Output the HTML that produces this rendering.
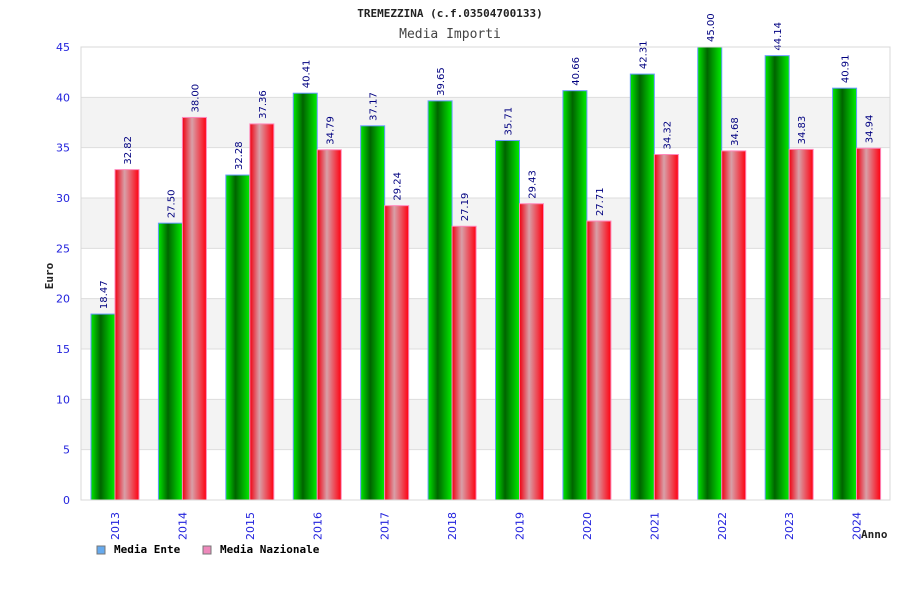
<!DOCTYPE html>
<html><head><meta charset="utf-8"><style>
body{margin:0;background:#fff;}
.mono{font-family:"DejaVu Sans Mono","Liberation Mono",monospace;}
.sans{font-family:"DejaVu Sans","Liberation Sans",sans-serif;}
</style></head><body>
<svg id="chart" width="900" height="600" xmlns="http://www.w3.org/2000/svg">
<defs>
<linearGradient id="gG" x1="0" x2="1" y1="0" y2="0">
<stop offset="0" stop-color="#00e800"/><stop offset="0.4" stop-color="#006400"/><stop offset="1" stop-color="#00ee00"/></linearGradient>
<linearGradient id="gR" x1="0" x2="1" y1="0" y2="0">
<stop offset="0" stop-color="#f00010"/><stop offset="0.4" stop-color="#d8a0a8"/><stop offset="1" stop-color="#ff0010"/></linearGradient>
</defs>
<text class="mono" x="450" y="17" text-anchor="middle" font-size="11" font-weight="bold" fill="#222">TREMEZZINA (c.f.03504700133)</text>
<text class="mono" x="450" y="38" text-anchor="middle" font-size="13" fill="#444">Media Importi</text>
<g id="grid"></g><g id="bars"></g><g id="axes"></g>
<text class="mono" transform="translate(53,276) rotate(-90)" text-anchor="middle" font-size="11" font-weight="bold" fill="#222">Euro</text>
<text class="mono" x="861" y="538" font-size="11" font-weight="bold" fill="#222">Anno</text>
<g>
<rect x="97" y="546" width="8" height="8" fill="#66aaee" stroke="#777"/>
<text class="mono" x="114" y="553" font-size="11" font-weight="bold" fill="#000">Media Ente</text>
<rect x="203" y="546" width="8" height="8" fill="#ee88bb" stroke="#777"/>
<text class="mono" x="220" y="553" font-size="11" font-weight="bold" fill="#000">Media Nazionale</text>
</g>
</svg>
<script>
const categories=["2013","2014","2015","2016","2017","2018","2019","2020","2021","2022","2023","2024"];
const enteValues=[18.47,27.50,32.28,40.41,37.17,39.65,35.71,40.66,42.31,45.00,44.14,40.91];
const nazValues=[32.82,38.00,37.36,34.79,29.24,27.19,29.43,27.71,34.32,34.68,34.83,34.94];
const yTicks=[0,5,10,15,20,25,30,35,40,45];
const NS="http://www.w3.org/2000/svg";
const L=81,R=890,T=47,B=500,yMax=45;
const y=v=>B-(v/yMax)*(B-T);
const gw=(R-L)/categories.length;
const x=i=>L+i*gw;
function mk(tag,attrs,parent,txt){const e=document.createElementNS(NS,tag);for(const k in attrs)e.setAttribute(k,attrs[k]);if(txt!==undefined)e.textContent=txt;parent.appendChild(e);return e;}
const grid=document.getElementById('grid'),bars=document.getElementById('bars'),axes=document.getElementById('axes');
for(let k=0;k<yTicks.length-1;k++){
  if(k%2===1){const b=mk('rect',{x:L,y:y(yTicks[k+1]),width:R-L,height:y(yTicks[k])-y(yTicks[k+1]),fill:'#f3f3f3'},grid);
  
  }
}
yTicks.forEach(t=>{
  const ln=mk('line',{x1:L,x2:R,y1:y(t),y2:y(t),stroke:'#dddddd'},grid);
  
  
  const tx=mk('text',{class:'sans',x:L-11,y:y(t)+4,'text-anchor':'end','font-size':'11',fill:'#2222dd'},axes,String(t));
  
  
});
const fr=mk('rect',{x:L,y:T,width:R-L,height:B-T,fill:'none',stroke:'#d8d8d8'},axes);


const bw=24;
categories.forEach((c,i)=>{
  const gx=x(i)+10;
  [[enteValues[i],'url(#gG)','#6699ff','bar-ente-'+c,gx],[nazValues[i],'url(#gR)','#ff88bb','bar-nazionale-'+c,gx+bw]].forEach(([v,f,s,n,bx])=>{
    const r=mk('rect',{x:bx,y:y(v),width:bw,height:B-y(v),fill:f,stroke:s,'stroke-width':'1'},bars);
    
    
    const lx=bx+bw/2+4,ly=y(v)-5;
    const t=mk('text',{class:'sans',transform:`translate(${lx},${ly}) rotate(-90)`,'font-size':'10',fill:'#000080'},bars,v.toFixed(2));
    
    
  });
  const cx=gx+bw+4;
  const xl=mk('text',{class:'sans',transform:`translate(${cx},${512}) rotate(-90)`,'text-anchor':'end','font-size':'11',fill:'#2222dd'},axes,c);
  
  
});
</script>
</body></html>
